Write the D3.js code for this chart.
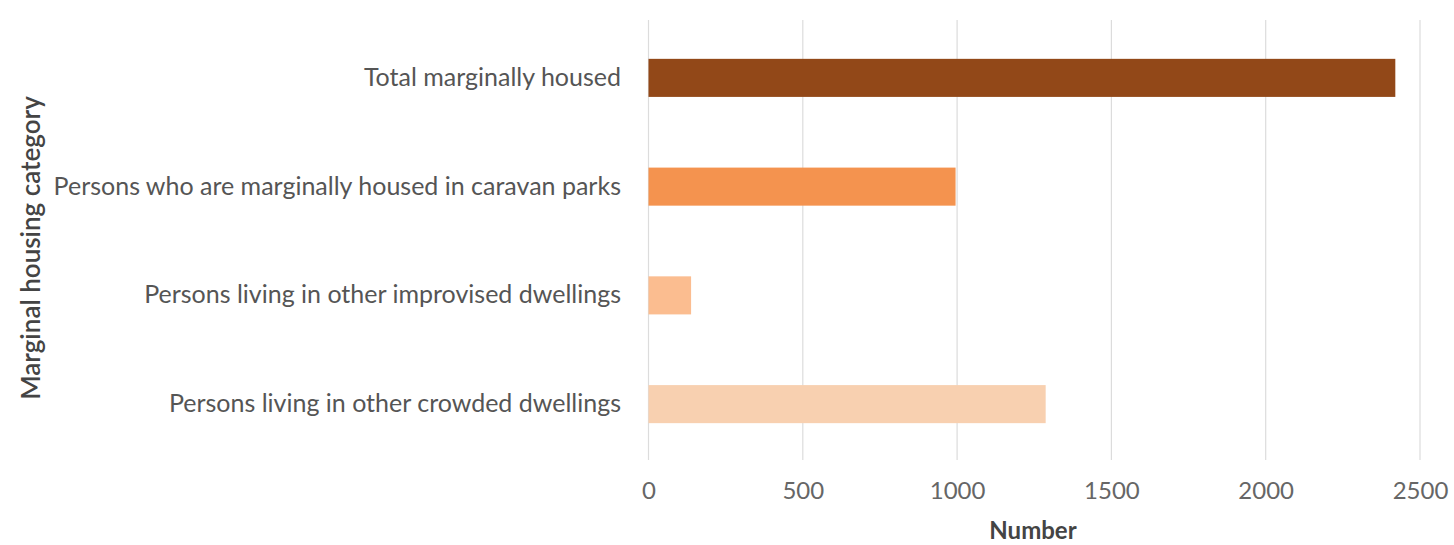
<!DOCTYPE html>
<html>
<head>
<meta charset="utf-8">
<script src="https://cdn.jsdelivr.net/npm/d3@7"></script>
<style>
body { margin: 0; background: #fff; }
text { font-family: Lato, "Open Sans", sans-serif; }
</style>
</head>
<body>
<svg id="chart"></svg>
<script>
// data
var categories = [
    "Total marginally housed",
    "Persons who are marginally housed in caravan parks",
    "Persons living in other improvised dwellings",
    "Persons living in other crowded dwellings"
];
var values = [2420, 995, 138, 1287];
var barColors = ["#924818", "#f4934f", "#fbbd90", "#f8d0b0"];
var xTicks = [0, 500, 1000, 1500, 2000, 2500];

var width = 1454;
var height = 545;

var svg = d3.select("#chart")
    .attr("width", width)
    .attr("height", height);

//scales
var xScale = d3.scaleLinear()
    .domain([0, 2500])
    .range([648.5, 1420]);
var yScale = d3.scaleBand()
    .domain(categories)
    .range([23.5, 458.5])
    .paddingInner(0.65)
    .paddingOuter(0.325);

//gridlines
svg.selectAll("line.grid")
    .data(xTicks)
    .enter()
    .append("line")
    .attr("class", "grid")
    .attr("x1", function(d){ return xScale(d); })
    .attr("x2", function(d){ return xScale(d); })
    .attr("y1", 20)
    .attr("y2", 460)
    .attr("stroke", "#dcdcdc")
    .attr("stroke-width", 1.2);

//bars
svg.selectAll("rect")
    .data(values)
    .enter()
    .append("rect")
    .attr("x", xScale(0))
    .attr("y", function(d, i){ return yScale(categories[i]); })
    .attr("width", function(d){ return xScale(d) - xScale(0); })
    .attr("height", yScale.bandwidth())
    .attr("fill", function(d, i){ return barColors[i]; });

//x axis tick labels
var xAxis = d3.axisBottom(xScale)
    .tickValues(xTicks)
    .tickFormat(d3.format("d"))
    .tickSize(0)
    .tickPadding(0);
var gx = svg.append("g")
    .attr("transform", "translate(0,491)")
    .call(xAxis);
gx.select(".domain").remove();
gx.selectAll("text")
    .attr("y", 0)
    .attr("dy", "0.35em")
    .attr("font-size", 24)
    .attr("fill", "#666")
    .style("font-family", "Lato, sans-serif");

//y axis category labels
var yAxis = d3.axisLeft(yScale)
    .tickSize(0)
    .tickPadding(0);
var gy = svg.append("g")
    .attr("transform", "translate(621,0)")
    .call(yAxis);
gy.select(".domain").remove();
gy.selectAll("text")
    .attr("font-size", 25)
    .attr("fill", "#555")
    .style("font-family", "Lato, sans-serif");

//axis titles
svg.append("text")
    .attr("x", 1033)
    .attr("y", 531)
    .attr("text-anchor", "middle")
    .attr("dy", "0.35em")
    .attr("font-size", 24)
    .attr("font-weight", "bold")
    .attr("fill", "#444")
    .text("Number");

svg.append("text")
    .attr("transform", "translate(31,248) rotate(-90)")
    .attr("text-anchor", "middle")
    .attr("dy", "0.35em")
    .attr("font-size", 26)
    .attr("font-weight", 600)
    .attr("fill", "#444")
    .text("Marginal housing category");
</script>
</body>
</html>
